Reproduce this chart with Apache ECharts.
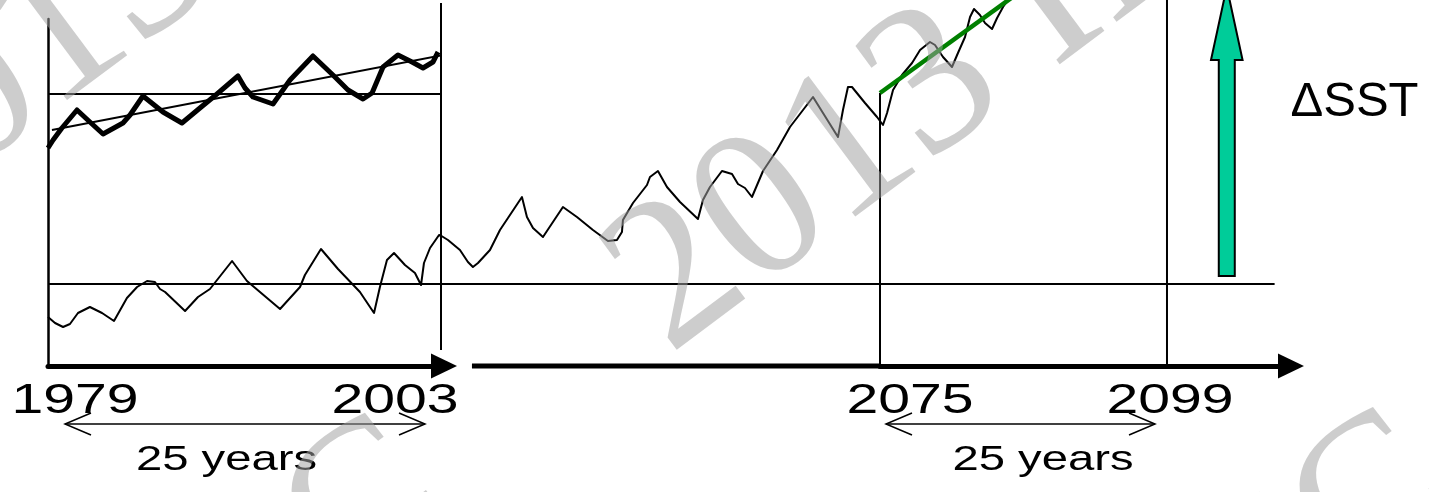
<!DOCTYPE html>
<html><head><meta charset="utf-8">
<script src="https://cdn.jsdelivr.net/npm/echarts@6/dist/echarts.min.js"></script>
<style>html,body{margin:0;padding:0;background:#fff}#c{width:1429px;height:492px}</style>
</head><body><div id="c"></div>
<script>
// Schematic: x = year on a broken time axis (1979–2003 | 2003–2075 | 2075–2099+),
// y = SST anomaly in schematic units (0 = reference level).

// Tick labels
const yearLabels = ['1979', '2003', '2075', '2099'];
const periodLabel = '25 years';
const deltaLabel = 'ΔSST';

// Thin line: SST time series
const thinSST_1979_2003 = [[1979.00,-3.3],[1979.43,-3.9],[1979.92,-4.3],[1980.34,-4.0],[1980.83,-2.9],[1981.56,-2.3],[1982.30,-2.9],[1983.03,-3.7],[1983.82,-1.4],[1984.44,-0.3],[1985.05,0.3],[1985.53,0.2],[1985.84,-0.5],[1986.15,-0.8],[1987.37,-2.7],[1988.16,-1.3],[1988.89,-0.5],[1990.24,2.3],[1991.15,0.3],[1993.17,-2.5],[1994.39,-0.3],[1994.69,0.9],[1995.67,3.5],[1996.71,1.5],[1998.05,-0.8],[1998.91,-2.9],[1999.27,-0.3],[1999.70,2.4],[2000.13,3.1],[2000.80,1.9],[2001.41,1.1],[2001.78,-0.1],[2001.96,2.1],[2002.33,3.6],[2002.88,4.9],[2003.00,4.8]];
const thinSST_2003_2075 = [[2003.0,4.8],[2004.06,4.4],[2006.03,3.4],[2007.34,2.2],[2008.16,1.7],[2008.99,2.1],[2010.96,3.4],[2012.60,5.4],[2016.21,8.7],[2017.03,6.7],[2018.02,5.6],[2019.66,4.7],[2022.94,7.7],[2025.24,6.7],[2027.87,5.4],[2030.33,4.3],[2031.81,4.4],[2032.63,5.2],[2032.79,6.4],[2034.44,8.1],[2036.74,9.9],[2037.23,10.7],[2038.54,11.3],[2040.02,9.7],[2042.16,8.2],[2045.11,6.5],[2045.93,8.4],[2047.08,9.7],[2049.05,11.3],[2050.70,11.0],[2051.68,10.0],[2052.83,9.6],[2053.98,8.7],[2055.79,11.3],[2058.09,13.4],[2060.22,15.7],[2064.00,18.7],[2068.10,14.7],[2068.92,17.4],[2069.74,19.7],[2070.40,19.7],[2072.54,18.1],[2074.51,16.7],[2075.00,16.3]];
const thinSST_2075_2099 = [[2075.00,16.3],[2075.25,15.9],[2075.59,17.1],[2076.09,19.4],[2076.84,20.9],[2077.68,22.1],[2078.35,23.4],[2079.18,24.2],[2079.60,23.9],[2080.27,22.7],[2081.02,21.7],[2081.52,23.1],[2082.11,24.7],[2082.53,26.7],[2082.86,27.5],[2083.36,26.9],[2083.78,26.1],[2084.37,25.5],[2084.79,26.6],[2085.29,27.7],[2086.04,29.0]];

// Thick line: inset view of 1979–2003
const thickSST_1979_2003 = [[1979.00,13.6],[1979.31,14.4],[1979.85,15.6],[1980.77,17.4],[1981.56,16.2],[1982.36,15.0],[1983.58,16.1],[1984.01,16.9],[1984.80,18.8],[1986.02,17.2],[1987.18,16.1],[1988.28,17.6],[1989.32,19.0],[1990.60,20.8],[1991.03,19.6],[1991.52,18.7],[1992.74,18.0],[1993.78,20.4],[1995.18,22.8],[1996.40,20.9],[1997.32,19.4],[1998.24,18.5],[1998.79,19.1],[1999.46,21.7],[2000.37,22.9],[2001.23,22.2],[2001.90,21.6],[2002.51,22.2],[2002.82,23.2]];

// Trend lines
const insetTrend = [[1979.24,15.4],[2003.12,22.9]];
const futureTrend = [[2075.0,19.1],[2086.9,29.4]];

// Reference levels, period markers and the middle time-axis segment
const mainRef = [[1979,0],[2003,0]];
const mainRefMid = [[2003,0],[2075,0]];
const mainRefEnd = [[2075,0],[2108.0,0]];
const insetRef = [[1979,19.0],[2003,19.0]];
const marker2003 = [[2003,-6.6],[2003,28.1]];
const marker2075 = [[2075,-8.2],[2075,19.1]];
const marker2099 = [[2099,-8.2],[2099,28.4]];
const timeAxisMid = [[2008.0,-8.2],[2075,-8.2]];

// ΔSST arrow: [year, from, to]
const deltaArrow = [[2104.0, 0.8, 29.7]];

// ---------- layout (pixels) ----------
const yearLabelX = [75, 395, 910, 1170];
const periodLabelX = [226.5, 1043];
const periodArrows = [[65, 425], [886, 1155]];

const FONT = '"Liberation Sans", Arial, Helvetica, sans-serif';

function ls(idx, data, width, color, z) {
  return {
    type: 'line', xAxisIndex: idx, yAxisIndex: idx, data: data,
    symbol: 'none', showSymbol: false, clip: false, silent: true, animation: false,
    emphasis: { disabled: true }, z: z || 2,
    lineStyle: { width: width, color: color || '#000', cap: 'butt', join: 'round' }
  };
}

const chart = echarts.init(document.getElementById('c'), null, { renderer: 'canvas' });

const noAxisParts = { axisTick: { show: false }, axisLabel: { show: false }, splitLine: { show: false } };

const option = {
  animation: false,
  backgroundColor: '#ffffff',
  grid: [
    { left: 48, right: 988, top: 19, bottom: 126 },
    { left: 441.5, right: 549, top: 0, bottom: 126 },
    { left: 880, right: 142.43, top: 0, bottom: 126 }
  ],
  xAxis: [
    Object.assign({ type: 'value', gridIndex: 0, min: 1979, max: 2003,
      axisLine: { show: true, onZero: false, symbol: ['none', 'triangle'], symbolSize: [25, 26], symbolOffset: [0, 3], lineStyle: { color: '#000', width: 5 } } }, noAxisParts),
    Object.assign({ type: 'value', gridIndex: 1, min: 2003, max: 2075,
      axisLine: { show: false } }, noAxisParts),
    Object.assign({ type: 'value', gridIndex: 2, min: 2075, max: 2109,
      axisLine: { show: true, onZero: false, symbol: ['none', 'triangle'], symbolSize: [25, 26], symbolOffset: [0, 4.4], lineStyle: { color: '#000', width: 5 } } }, noAxisParts)
  ],
  yAxis: [
    Object.assign({ type: 'value', gridIndex: 0, min: -8.2, max: 26.5,
      axisLine: { show: true, onZero: false, lineStyle: { color: '#000', width: 2.5 } } }, noAxisParts),
    { type: 'value', gridIndex: 1, min: -8.2, max: 28.4, show: false },
    { type: 'value', gridIndex: 2, min: -8.2, max: 28.4, show: false }
  ],
  series: [
    ls(0, insetRef, 2),
    ls(0, mainRef, 2),
    ls(1, mainRefMid, 2),
    ls(2, mainRefEnd, 2),
    ls(0, marker2003, 2),
    ls(2, marker2075, 2),
    ls(2, marker2099, 2),
    ls(1, timeAxisMid, 5),
    ls(0, insetTrend, 2),
    ls(0, thickSST_1979_2003, 5, '#000', 3),
    ls(0, thinSST_1979_2003, 2, '#000', 3),
    ls(1, thinSST_2003_2075, 2, '#000', 3),
    ls(2, thinSST_2075_2099, 2, '#000', 3),
    ls(2, futureTrend, 4.5, '#008000', 4),
    {
      type: 'custom', xAxisIndex: 2, yAxisIndex: 2, data: deltaArrow, silent: true, z: 4,
      renderItem: function (params, api) {
        const base = api.coord([api.value(0), api.value(1)]);
        const tip = api.coord([api.value(0), api.value(2)]);
        const cx = base[0], sh = 8, hh = 15.8, hl = 73;
        const hy = tip[1] + hl;
        return {
          type: 'polygon',
          shape: { points: [[cx - sh, base[1]], [cx - sh, hy], [cx - hh, hy], [cx, tip[1]], [cx + hh, hy], [cx + sh, hy], [cx + sh, base[1]]] },
          style: { fill: '#00CC99', stroke: '#000', lineWidth: 2, lineJoin: 'miter' }
        };
      }
    }
  ],
  graphic: []
};

const g = [];
function txt(text, x, y, size, sx) {
  return { type: 'text', x: x, y: y, scaleX: sx || 1, z: 50, silent: true,
    style: { text: text, font: size + 'px ' + FONT, fill: '#000', align: 'center', verticalAlign: 'middle', textAlign: 'center', textVerticalAlign: 'middle' } };
}
yearLabels.forEach((t, i) => g.push(txt(t, yearLabelX[i], 401.5, 42, 1.36)));
periodLabelX.forEach(x => g.push(txt(periodLabel, x, 460, 35, 1.35)));
g.push(txt(deltaLabel, 1354.5, 102.5, 49, 1));
periodArrows.forEach(([a, b]) => {
  const y = 424, hx = 26, hy = 11;
  g.push({ type: 'line', z: 50, silent: true, shape: { x1: a, y1: y, x2: b, y2: y }, style: { stroke: '#000', lineWidth: 1.5 } });
  g.push({ type: 'polyline', z: 50, silent: true, shape: { points: [[a + hx, y - hy], [a, y], [a + hx, y + hy]] }, style: { stroke: '#000', lineWidth: 1.5, fill: null } });
  g.push({ type: 'polyline', z: 50, silent: true, shape: { points: [[b - hx, y - hy], [b, y], [b - hx, y + hy]] }, style: { stroke: '#000', lineWidth: 1.5, fill: null } });
});
// watermark rows (rotated "IPCC … 2013 IPCC")
const WM_FONT = '213px "Liberation Serif", "Times New Roman", serif';
const WM_FILL = 'rgba(160,160,160,0.53)';
function wmText(text, x, align) {
  return { type: 'text', x: x, y: -54, z: 100,
    style: { text: text, font: WM_FONT, fill: WM_FILL, align: align, verticalAlign: 'middle', textAlign: align, textVerticalAlign: 'middle' } };
}
const ux = Math.cos(0.6405), uy = -Math.sin(0.6405);
[[673 - 6 * ux, 350 - 6 * uy], [-119.9, 237.1], [1676.3, 347.7]].forEach(([x, y]) => {
  g.push({ type: 'group', x: x, y: y, rotation: 0.6405, z: 100, silent: true,
    children: [wmText('IPCC', -264, 'right'), wmText('2013 IPCC', 0, 'left')] });
});
option.graphic = g;
chart.setOption(option);
</script>
</body></html>
